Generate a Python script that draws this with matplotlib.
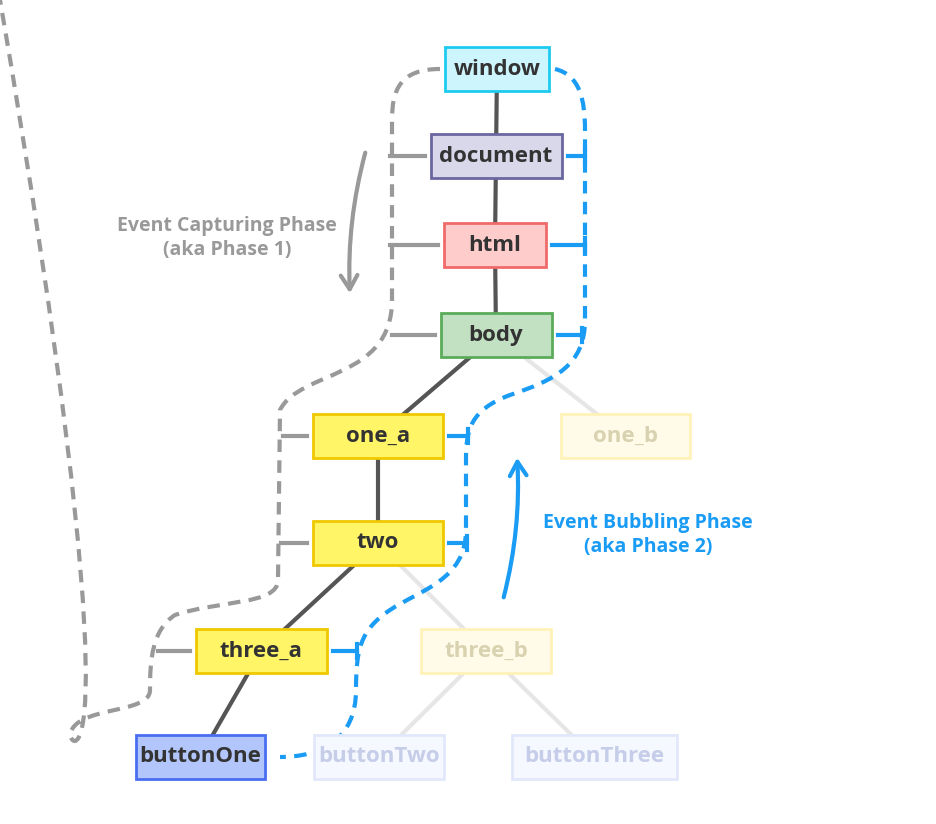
import matplotlib.pyplot as plt
from matplotlib.patches import FancyBboxPatch, PathPatch, FancyArrowPatch
from matplotlib.path import Path

# node name, centre x, centre y, width (pixel coordinates of the diagram)
names = ["window", "document", "html", "body", "one_a", "one_b", "two",
         "three_a", "three_b", "buttonOne", "buttonTwo", "buttonThree"]
cx = [497, 496, 495, 496, 378, 625, 378, 261, 486, 200, 379, 594]
cy = [69, 156, 245, 335, 436, 436, 543, 651, 651, 757, 757, 757]
widths = [104, 131, 102, 111, 130, 129, 130, 131, 130, 129, 130, 165]
faded = [False, False, False, False, False, True, False, False, True, False, True, True]
fills = ["#ccf5fd", "#d9d8ea", "#ffcccc", "#c2e0c2", "#fff566", "#fffbe8", "#fff566",
         "#fff566", "#fffbe8", "#b3c6fb", "#f6f8ff", "#f6f8ff"]
edges = ["#1ecbf0", "#6a67a0", "#f06a6a", "#5aac5a", "#f0c800", "#fff2b8", "#f0c800",
         "#f0c800", "#fff2b8", "#4a6ef0", "#e2e8fb", "#e2e8fb"]
links = [("window", "document"), ("document", "html"), ("html", "body"),
         ("body", "one_a"), ("body", "one_b"), ("one_a", "two"), ("two", "three_a"),
         ("two", "three_b"), ("three_a", "buttonOne"), ("three_b", "buttonTwo"),
         ("three_b", "buttonThree")]
path_nodes = ["document", "html", "body", "one_a", "two", "three_a"]
H = 44
GRAY = "#999999"
BLUE = "#1a9cf5"

fig = plt.figure(figsize=(9.36, 8.24), dpi=100)
ax = fig.add_axes([0, 0, 1, 1])
ax.set_xlim(0, 936)
ax.set_ylim(824, 0)
ax.axis("off")
idx = {n: i for i, n in enumerate(names)}

for a, b in links:
    i, j = idx[a], idx[b]
    fade = faded[i] or faded[j]
    ax.plot([cx[i], cx[j]], [cy[i], cy[j]], color="#e6e6e6" if fade else "#555555",
            lw=3, zorder=1, solid_capstyle="butt")

for i, n in enumerate(names):
    w = widths[i]
    ax.add_patch(FancyBboxPatch((cx[i] - w / 2, cy[i] - H / 2), w, H,
                                boxstyle="square,pad=0", fc=fills[i], ec=edges[i],
                                lw=2, zorder=2))
    ax.text(cx[i], cy[i], n, ha="center", va="center", fontsize=16,
            fontweight="bold", family="Open Sans",
            color="#d8d2b0" if faded[i] and "one_b" in n or n == "three_b" else
            ("#c5cde8" if faded[i] else "#333333"), zorder=3)

# capturing path (left, gray)
gray_verts = [(440, 69), (400, 69), (392, 90), (392, 120), (392, 300),
              (392, 380), (300, 370), (280, 410), (278, 580),
              (278, 605), (220, 600), (175, 615), (152, 630), (150, 660), (150, 690),
              (150, 715), (75, 705), (70, 735), (75, 757), (130, 757)]
gray_codes = [Path.MOVETO, Path.CURVE4, Path.CURVE4, Path.CURVE4, Path.LINETO,
              Path.CURVE4, Path.CURVE4, Path.CURVE4, Path.LINETO,
              Path.CURVE4, Path.CURVE4, Path.CURVE4, Path.CURVE4, Path.CURVE4, Path.CURVE4,
              Path.CURVE4, Path.CURVE4, Path.CURVE4, Path.CURVE4, Path.CURVE4]
ax.add_patch(PathPatch(Path(gray_verts, gray_codes), fc="none", ec=GRAY, lw=3,
                       ls=(0, (3, 2)), zorder=1))

# bubbling path (right, blue)
blue_verts = [(555, 69), (580, 75), (585, 100), (585, 130), (585, 320),
              (585, 365), (555, 380), (510, 395), (470, 410), (466, 430), (466, 460),
              (466, 530), (466, 580), (420, 590), (390, 610), (360, 630), (356, 650),
              (356, 690), (356, 740), (320, 757), (280, 757)]
blue_codes = [Path.MOVETO, Path.CURVE4, Path.CURVE4, Path.CURVE4, Path.LINETO,
              Path.CURVE4, Path.CURVE4, Path.CURVE4, Path.CURVE4, Path.CURVE4, Path.CURVE4,
              Path.LINETO, Path.CURVE4, Path.CURVE4, Path.CURVE4, Path.CURVE4, Path.CURVE4,
              Path.CURVE4, Path.CURVE4, Path.CURVE4, Path.CURVE4]
ax.add_patch(PathPatch(Path(blue_verts, blue_codes), fc="none", ec=BLUE, lw=3,
                       ls=(0, (3, 2)), zorder=1))

# stubs from the paths to each node
gray_x = {"document": 390, "html": 390, "body": 392, "one_a": 283, "two": 281, "three_a": 158}
blue_x = {"document": 585, "html": 585, "body": 582, "one_a": 468, "two": 467, "three_a": 357}
for n in path_nodes:
    i = idx[n]
    left = cx[i] - widths[i] / 2 - 6
    right = cx[i] + widths[i] / 2 + 6
    ax.plot([gray_x[n], left], [cy[i], cy[i]], color=GRAY, lw=3, zorder=1)
    ax.plot([right, blue_x[n]], [cy[i], cy[i]], color=BLUE, lw=3, zorder=1)
    ax.plot([blue_x[n], blue_x[n]], [cy[i] - 7, cy[i] + 7], color=BLUE, lw=3, zorder=1)

ax.add_patch(FancyArrowPatch((366, 150), (350, 296), connectionstyle="arc3,rad=0.08",
                             arrowstyle="->,head_length=10,head_width=6", color=GRAY,
                             lw=3, zorder=1))
ax.add_patch(FancyArrowPatch((503, 600), (517, 455), connectionstyle="arc3,rad=0.08",
                             arrowstyle="->,head_length=10,head_width=6", color=BLUE,
                             lw=3, zorder=1))

ax.text(227, 238, "Event Capturing Phase\n(aka Phase 1)", ha="center", va="center",
        fontsize=14, fontweight="bold", family="Open Sans", color=GRAY, linespacing=1.3)
ax.text(648, 535, "Event Bubbling Phase\n(aka Phase 2)", ha="center", va="center",
        fontsize=14, fontweight="bold", family="Open Sans", color=BLUE, linespacing=1.3)

fig.savefig("out.png", dpi=100)
